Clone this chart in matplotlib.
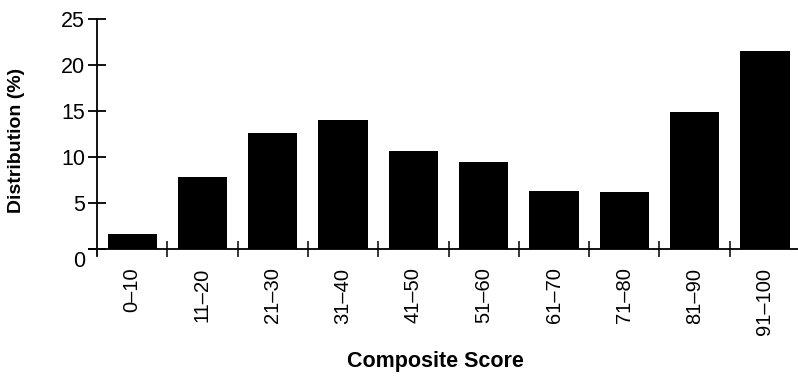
import matplotlib
matplotlib.use("Agg")
import matplotlib.pyplot as plt
import matplotlib.transforms as mtransforms
import numpy as np

# Distribution of composite scores by 10-point band
categories = ["0–10", "11–20", "21–30", "31–40", "41–50",
              "51–60", "61–70", "71–80", "81–90", "91–100"]
distribution = [1.7, 7.9, 12.6, 14.1, 10.7, 9.5, 6.3, 6.2, 14.9, 21.6]
y_ticks = [0, 5, 10, 15, 20, 25]

plt.rcParams["font.family"] = ["Liberation Sans", "DejaVu Sans"]

fig = plt.figure(figsize=(7.98, 3.77), dpi=100)
ax = fig.add_axes([0.111, 0.320, 0.889, 0.629])

x = np.arange(len(categories)) + 0.5
ax.bar(x, distribution, width=0.70, color="black", edgecolor="black", linewidth=0)

ax.set_xlim(-0.12, 9.97)
ax.set_ylim(-0.75, 25)

for side in ("top", "right"):
    ax.spines[side].set_visible(False)
ax.spines["left"].set_position(("data", 0))
ax.spines["bottom"].set_position(("data", 0))
for side in ("left", "bottom"):
    ax.spines[side].set_linewidth(1.3)

# y axis: ticks crossing the axis line
ax.set_yticks(y_ticks)
ax.set_yticklabels([str(v) for v in y_ticks])
ax.tick_params(axis="y", which="major", direction="inout", length=13,
               width=1.3, pad=2, labelsize=15.5)
# nudge the zero label down below the axis crossing
zero_lab = ax.get_yticklabels()[0]
zero_lab.set_transform(zero_lab.get_transform() +
                       mtransforms.ScaledTranslation(0, -10 / 100, fig.dpi_scale_trans))

# x axis: tick marks at category boundaries, labels at centres
ax.set_xticks(np.arange(1, len(categories)))
ax.set_xticklabels([])
ax.set_xticks(x, minor=True)
ax.set_xticklabels(categories, minor=True, rotation=90, fontsize=14.5)
ax.tick_params(axis="x", which="major", direction="inout", length=12, width=1.1)
ax.tick_params(axis="x", which="minor", length=0, pad=13)

fig.text(16.5 / 798, 1 - 140 / 377, "Distribution (%)", rotation=90,
         ha="center", va="center", fontsize=14, fontweight="bold")
fig.text(435 / 798, 1 - 362 / 377, "Composite Score",
         ha="center", va="center", fontsize=15.5, fontweight="bold")

fig.savefig("out.png", dpi=100)
